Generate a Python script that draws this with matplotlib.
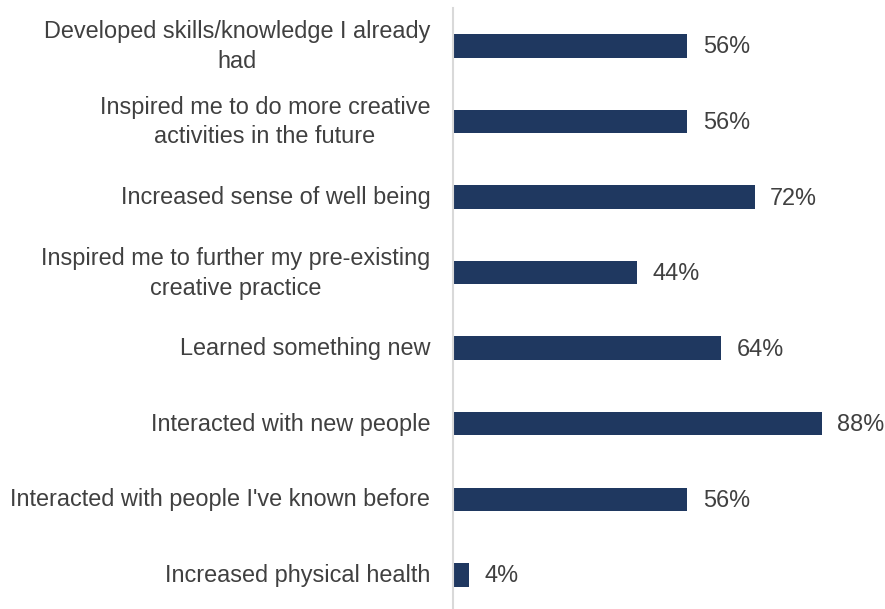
import matplotlib.pyplot as plt
from matplotlib.transforms import ScaledTranslation

# Survey outcomes, percent of respondents
outcomes = [
    'Developed skills/knowledge I already\nhad',
    'Inspired me to do more creative\nactivities in the future',
    'Increased sense of well being',
    'Inspired me to further my pre-existing\ncreative practice',
    'Learned something new',
    'Interacted with new people',
    "Interacted with people I've known before",
    'Increased physical health',
]
percent = [56, 56, 72, 44, 64, 88, 56, 4]

plt.rcParams['font.family'] = ['Liberation Sans', 'DejaVu Sans']

fig = plt.figure(figsize=(8.85, 6.09), dpi=100)
ax = fig.add_axes([452.5 / 885, -0.006, (872 - 452.5) / 885, 1 - 8 / 609 + 0.006])

ypos = list(range(len(outcomes)))
bars = ax.barh(ypos, percent, height=0.31, color='#1f3860')
ax.set_ylim(len(outcomes) - 0.5, -0.5)
ax.set_xlim(0, 100)

ax.set_yticks(ypos)
ax.set_yticklabels(outcomes, fontsize=16.9, color='#404040', multialignment='center',
                   linespacing=1.36)
ax.tick_params(axis='y', length=0, pad=16)
ax.set_xticks([])

# nudge labels up a little; wrapped ones need a bit more
for lbl in ax.get_yticklabels():
    up = 5 if '\n' in lbl.get_text() else 2
    lbl.set_transform(lbl.get_transform() + ScaledTranslation(0, up / 100, fig.dpi_scale_trans))

for spine in ['top', 'right', 'bottom']:
    ax.spines[spine].set_visible(False)
ax.spines['left'].set_color('#d9d9d9')
ax.spines['left'].set_linewidth(1.5)

for b, v in zip(bars, percent):
    ax.annotate(f'{v}%', (b.get_width(), b.get_y() + b.get_height() / 2),
                xytext=(11, 1), textcoords='offset points',
                va='center_baseline', ha='left', fontsize=16.9, color='#404040')

fig.savefig('out.png', dpi=100)
